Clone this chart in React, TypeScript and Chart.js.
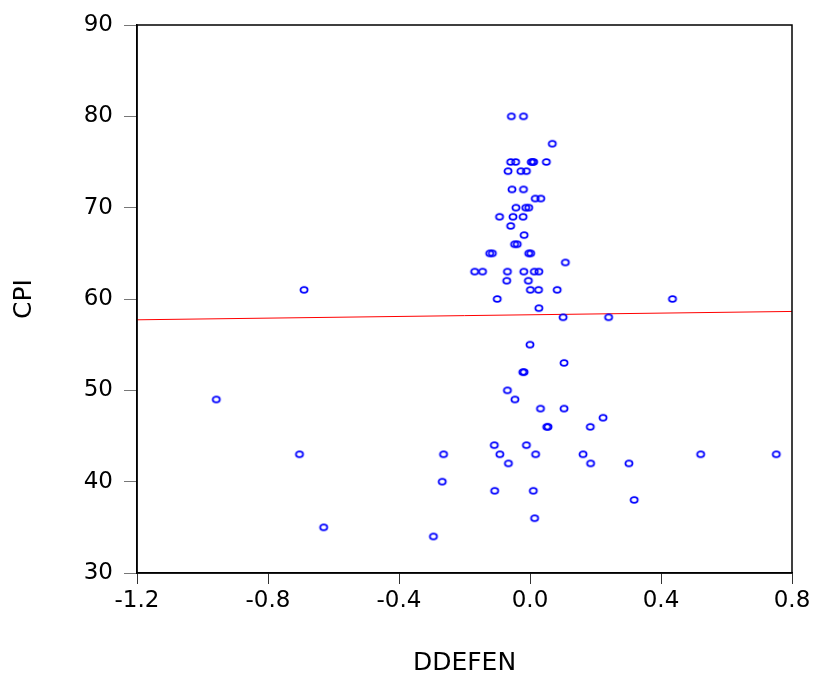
import { useEffect, useRef } from "react";
import { Chart, registerables } from "chart.js";

Chart.register(...registerables);

const ddefen = [
  -0.057, -0.020, 0.068, -0.059, -0.044, 0.004, 0.008, 0.011, 0.050, -0.067,
  -0.028, -0.011, -0.055, -0.020, 0.016, 0.033, -0.043, -0.013, -0.004, -0.093,
  -0.052, -0.021, -0.059, -0.018, -0.047, -0.039, -0.123, -0.115, -0.004, 0.002,
  0.108, -0.169, -0.145, -0.069, -0.019, 0.013, 0.027, -0.071, -0.005, -0.690,
  0.001, 0.026, 0.083, -0.100, 0.435, 0.027, 0.101, 0.240, 0.000, 0.104,
  -0.022, -0.018, -0.069, -0.958, -0.046, 0.032, 0.104, 0.223, 0.051, 0.055,
  0.184, -0.109, -0.011, -0.704, -0.264, -0.092, 0.017, 0.162, 0.521, 0.752,
  -0.066, 0.185, 0.302, -0.268, -0.108, 0.010, 0.318, 0.014, -0.630, -0.295,
];
const cpi = [
  80, 80, 77, 75, 75, 75, 75, 75, 75, 74,
  74, 74, 72, 72, 71, 71, 70, 70, 70, 69,
  69, 69, 68, 67, 66, 66, 65, 65, 65, 65,
  64, 63, 63, 63, 63, 63, 63, 62, 62, 61,
  61, 61, 61, 60, 60, 59, 58, 58, 55, 53,
  52, 52, 50, 49, 49, 48, 48, 47, 46, 46,
  46, 44, 44, 43, 43, 43, 43, 43, 43, 43,
  42, 42, 42, 40, 39, 39, 38, 36, 35, 34,
];
const xTicks = [-1.2, -0.8, -0.4, 0.0, 0.4, 0.8];
const yTicks = [30, 40, 50, 60, 70, 80, 90];
const xAxisTitle = "DDEFEN";
const yAxisTitle = "CPI";

const FONT = "'DejaVu Sans', 'Liberation Sans', Arial, sans-serif";

function leastSquares(xs: number[], ys: number[]) {
  const n = xs.length;
  const mx = xs.reduce((a, b) => a + b, 0) / n;
  const my = ys.reduce((a, b) => a + b, 0) / n;
  let sxy = 0;
  let sxx = 0;
  for (let i = 0; i < n; i++) {
    sxy += (xs[i] - mx) * (ys[i] - my);
    sxx += (xs[i] - mx) * (xs[i] - mx);
  }
  const slope = sxy / sxx;
  return { slope, intercept: my - slope * mx };
}

function makeMarker() {
  const c = document.createElement("canvas");
  c.width = 12;
  c.height = 10;
  const g = c.getContext("2d")!;
  g.strokeStyle = "#0000ff";
  g.lineWidth = 1.7;
  g.beginPath();
  g.ellipse(6, 5, 3.6, 2.8, 0, 0, Math.PI * 2);
  g.stroke();
  return c;
}

const framePlugin = {
  id: "frame",
  afterDatasetsDraw(chart: any) {
    const { ctx, chartArea } = chart;
    ctx.save();
    ctx.strokeStyle = "#000";
    ctx.lineWidth = 1.5;
    ctx.strokeRect(
      chartArea.left,
      chartArea.top,
      chartArea.right - chartArea.left,
      chartArea.bottom - chartArea.top
    );
    ctx.restore();
  },
};

export default function App() {
  const ref = useRef<HTMLCanvasElement | null>(null);

  useEffect(() => {
    if (!ref.current) return;
    const points = ddefen.map((x, i) => ({ x, y: cpi[i] }));
    const fit = leastSquares(ddefen, cpi);
    const xMin = xTicks[0];
    const xMax = xTicks[xTicks.length - 1];
    const fitLine = [
      { x: xMin, y: fit.intercept + fit.slope * xMin },
      { x: xMax, y: fit.intercept + fit.slope * xMax },
    ];
    const marker = makeMarker();

    const chart = new Chart(ref.current, {
      type: "scatter",
      data: {
        datasets: [
          {
            label: "fit",
            data: fitLine,
            showLine: true,
            borderColor: "#ff0000",
            borderWidth: 1,
            pointRadius: 0,
            order: 2,
          },
          {
            label: "CPI",
            data: points,
            pointStyle: marker as any,
            pointRadius: 4,
            order: 1,
          },
        ],
      },
      options: {
        responsive: false,
        animation: false,
        devicePixelRatio: 1,
        layout: { padding: { top: 25, right: 24, left: 0, bottom: 0 } },
        plugins: {
          legend: { display: false },
          tooltip: { enabled: false },
        },
        scales: {
          x: {
            type: "linear",
            position: "bottom",
            min: xMin,
            max: xMax,
            afterBuildTicks: (axis: any) => {
              axis.ticks = xTicks.map((v) => ({ value: v }));
            },
            afterFit: (s: any) => {
              s.height = 105;
            },
            grid: {
              drawOnChartArea: false,
              drawTicks: true,
              tickLength: 11,
              color: "#333",
              lineWidth: 1,
            },
            border: { display: true, color: "#000", width: 1.5 },
            ticks: {
              padding: 3,
              color: "#000",
              autoSkip: false,
              maxRotation: 0,
              font: { family: FONT, size: 23 },
              callback: (v: any) => Number(v).toFixed(1),
            },
            title: {
              display: true,
              text: xAxisTitle,
              color: "#000",
              font: { family: FONT, size: 25 },
              padding: { top: 0, bottom: 0 },
            },
          },
          y: {
            type: "linear",
            position: "left",
            min: yTicks[0],
            max: yTicks[yTicks.length - 1],
            afterBuildTicks: (axis: any) => {
              axis.ticks = yTicks.map((v) => ({ value: v }));
            },
            afterFit: (s: any) => {
              s.width = 137;
            },
            grid: {
              drawOnChartArea: false,
              drawTicks: true,
              tickLength: 13,
              color: "#777",
              lineWidth: 1,
            },
            border: { display: true, color: "#000", width: 1.5 },
            ticks: {
              padding: 11,
              color: "#000",
              autoSkip: false,
              font: { family: FONT, size: 23 },
              callback: (v: any) => String(v),
            },
            title: {
              display: true,
              text: yAxisTitle,
              color: "#000",
              font: { family: FONT, size: 25 },
              padding: { top: 9, bottom: 0 },
            },
          },
        },
      },
      plugins: [framePlugin],
    });

    return () => chart.destroy();
  }, []);

  return (
    <div style={{ position: "fixed", left: 0, top: 0, width: 816, height: 678, background: "#fff" }}>
      <canvas ref={ref} width={816} height={678} style={{ display: "block" }} />
    </div>
  );
}
